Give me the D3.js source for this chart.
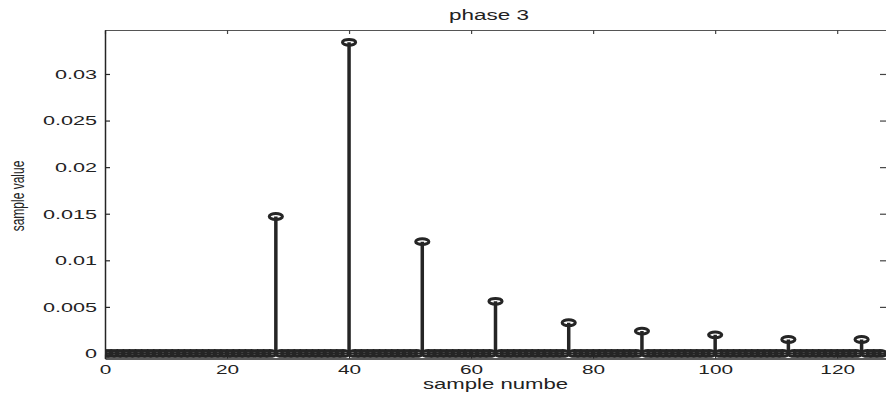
<!DOCTYPE html>
<html>
<head>
<meta charset="utf-8">
<script src="https://cdn.jsdelivr.net/npm/d3@7/dist/d3.min.js"></script>
<style>
  html, body { margin: 0; padding: 0; background: #fff; }
  svg { display: block; }
  text { font-family: "Liberation Sans", Arial, Helvetica, sans-serif; fill: #222; }
</style>
</head>
<body>
<svg id="chart" width="886" height="396"></svg>
<script>
// Stem plot of one polyphase branch: 128 samples, non-zero every 12th sample from 28 on
const nSamples = 128;
const peakSamples = [28, 40, 52, 64, 76, 88, 100, 112, 124];
const peakValues  = [0.0147, 0.0334, 0.0120, 0.0056, 0.0033, 0.0024, 0.0020, 0.0015, 0.0015];
const xTicks = [0, 20, 40, 60, 80, 100, 120];
const yTicks = [0, 0.005, 0.01, 0.015, 0.02, 0.025, 0.03];
const yTickLabels = ["0", "0.005", "0.01", "0.015", "0.02", "0.025", "0.03"];
const titleText = "phase 3";
const xLabelText = "sample numbe";
const yLabelText = "sample value";

const samples = d3.range(nSamples).map(n => {
  const k = peakSamples.indexOf(n);
  return { n, v: k >= 0 ? peakValues[k] : 0 };
});

const plot = { left: 105, right: 886, top: 30, bottom: 358.5 };
const ink = "#252525";
const stretch = 1.55;

const svg = d3.select("#chart");

const x = d3.scaleLinear().domain([0, 128]).range([plot.left, plot.right]);
const y = d3.scaleLinear().domain([-0.00054, 0.03472]).range([plot.bottom, plot.top]);

svg.append("defs").append("clipPath").attr("id", "plotArea")
  .append("rect")
  .attr("x", plot.left).attr("y", plot.top)
  .attr("width", plot.right - plot.left).attr("height", plot.bottom - plot.top);

// Box: top and right sides with inward ticks, no labels
const topAxis = svg.append("g")
  .attr("transform", `translate(0,${plot.top})`)
  .call(d3.axisTop(x).tickValues(xTicks).tickSizeInner(-4).tickSizeOuter(0).tickFormat(""));
topAxis.select(".domain").attr("stroke", "#555").attr("stroke-width", 1.2);
topAxis.selectAll(".tick line").attr("stroke", "#444").attr("stroke-width", 1.2);

const rightAxis = svg.append("g")
  .attr("transform", `translate(${plot.right},0)`)
  .call(d3.axisRight(y).tickValues(yTicks).tickSizeInner(-6).tickSizeOuter(0).tickFormat(""));
rightAxis.select(".domain").attr("stroke", "#555");
rightAxis.selectAll(".tick line").attr("stroke", "#444").attr("stroke-width", 1.2);

// Bottom axis
const xAxis = svg.append("g")
  .attr("transform", `translate(0,${plot.bottom})`)
  .call(d3.axisBottom(x).tickValues(xTicks).tickSizeInner(-4).tickSizeOuter(0).tickPadding(6).tickFormat(d3.format("d")));
xAxis.select(".domain").attr("stroke", ink).attr("stroke-width", 1.4);
xAxis.selectAll(".tick line").attr("stroke", ink).attr("stroke-width", 1.2);
xAxis.selectAll(".tick text")
  .attr("font-size", 13)
  .attr("font-family", "Liberation Sans, Arial, sans-serif")
  .attr("fill", "#222")
  .attr("transform", `scale(1.6,1)`);

// Left axis
const yAxis = svg.append("g")
  .attr("transform", `translate(${plot.left},0)`)
  .call(d3.axisLeft(y).tickValues(yTicks).tickSizeInner(-5).tickSizeOuter(0).tickPadding(8)
    .tickFormat((d, i) => yTickLabels[i]));
yAxis.select(".domain").attr("stroke", ink).attr("stroke-width", 1.5);
yAxis.selectAll(".tick line").attr("stroke", ink).attr("stroke-width", 1.2);
yAxis.selectAll(".tick text")
  .attr("font-size", 13.5)
  .attr("font-family", "Liberation Sans, Arial, sans-serif")
  .attr("fill", "#222")
  .attr("x", 0)
  .attr("transform", `translate(-8,0) scale(1.6,1)`);

// Stems and markers
const marks = svg.append("g").attr("clip-path", "url(#plotArea)");

marks.append("line")
  .attr("x1", x(0)).attr("x2", x(128))
  .attr("y1", y(0)).attr("y2", y(0))
  .attr("stroke", ink).attr("stroke-width", 2);

marks.selectAll("line.stem")
  .data(samples.filter(d => d.v !== 0))
  .join("line")
  .attr("class", "stem")
  .attr("x1", d => x(d.n)).attr("x2", d => x(d.n))
  .attr("y1", y(0)).attr("y2", d => y(d.v))
  .attr("stroke", ink).attr("stroke-width", 3.5);

marks.selectAll("ellipse.marker")
  .data(samples)
  .join("ellipse")
  .attr("class", "marker")
  .attr("cx", d => x(d.n))
  .attr("cy", d => y(d.v))
  .attr("rx", 6.6).attr("ry", 2.9)
  .attr("fill", "none")
  .attr("stroke", ink).attr("stroke-width", 3);

// Title and axis labels
svg.append("text")
  .attr("transform", `translate(489,20) scale(${stretch},1)`)
  .attr("text-anchor", "middle")
  .attr("font-size", 14.5)
  .text(titleText);

svg.append("text")
  .attr("transform", `translate(495.5,388.5) scale(1.58,1)`)
  .attr("text-anchor", "middle")
  .attr("font-size", 14)
  .text(xLabelText);

svg.append("text")
  .attr("transform", `translate(23.5,196) rotate(-90) scale(1,${stretch})`)
  .attr("text-anchor", "middle")
  .attr("font-size", 12)
  .text(yLabelText);
</script>
</body>
</html>
